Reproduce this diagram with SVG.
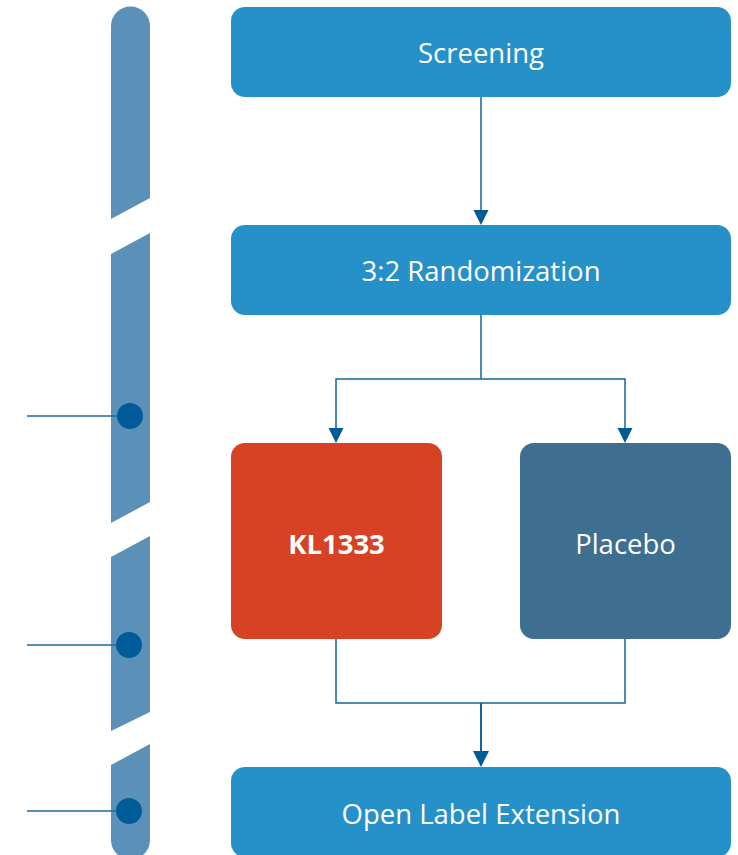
<svg xmlns="http://www.w3.org/2000/svg" width="738" height="855" viewBox="0 0 738 855">
<style>
.bar{fill:#5b91b8}
.dot{fill:#005c98}
.tick{stroke:#1b6aa3;stroke-width:1.5;fill:none}
.box{fill:#2690c8}
.lbl{font-family:"Open Sans",sans-serif;font-size:27.5px;fill:#ffffff;text-anchor:middle;dominant-baseline:central}
.conn{stroke:#1366a0;stroke-width:1.5;fill:none}
.head{fill:#005c98}
</style>
<g id="timeline">
<path class="bar" d="M111,219 L111,26 A19.5,19.5 0 0 1 150,26 L150,198 Z"/>
<path class="bar" d="M111,254 L150,233 L150,502 L111,523 Z"/>
<path class="bar" d="M111,557 L150,536 L150,712 L111,731 Z"/>
<path class="bar" d="M111,765 L150,744 L150,840 A19.5,19.5 0 0 1 111,840 Z"/>
<line class="tick" x1="27" y1="416" x2="125" y2="416"/>
<line class="tick" x1="27" y1="645" x2="125" y2="645"/>
<line class="tick" x1="27" y1="811" x2="125" y2="811"/>
<circle class="dot" cx="130" cy="416" r="13"/>
<circle class="dot" cx="129" cy="645" r="13"/>
<circle class="dot" cx="129" cy="811" r="13"/>
</g>
<g id="connectors">
<path class="conn" d="M481,97 L481,212"/>
<path class="head" d="M473.5,210 L488.5,210 L481,225 Z"/>
<path class="conn" d="M481,315 L481,379 M336,430 L336,379 L625,379 L625,430"/>
<path class="head" d="M328.5,428 L343.5,428 L336,443 Z"/>
<path class="head" d="M617.5,428 L632.5,428 L625,443 Z"/>
<path class="conn" d="M336,639 L336,703 L625,703 L625,639"/>
<path class="conn" d="M481,703 L481,755" style="stroke-width:2"/>
<path class="head" d="M473,751 L489,751 L481,767 Z"/>
</g>
<g id="screening">
<rect class="box" x="231" y="7" width="500" height="90" rx="14"/>
<text class="lbl" x="481" y="52">Screening</text>
</g>
<g id="randomization">
<rect class="box" x="231" y="225" width="500" height="90" rx="14"/>
<text class="lbl" x="481" y="270">3:2 Randomization</text>
</g>
<g id="kl1333">
<rect x="231" y="443" width="211" height="196" rx="14" fill="#d64223"/>
<text class="lbl" x="336.5" y="543" font-weight="bold">KL1333</text>
</g>
<g id="placebo">
<rect x="520" y="443" width="211" height="196" rx="14" fill="#3e6f90"/>
<text class="lbl" x="625.5" y="543">Placebo</text>
</g>
<g id="ole">
<rect class="box" x="231" y="767" width="500" height="90" rx="14"/>
<text class="lbl" x="481" y="813">Open Label Extension</text>
</g>
</svg>
